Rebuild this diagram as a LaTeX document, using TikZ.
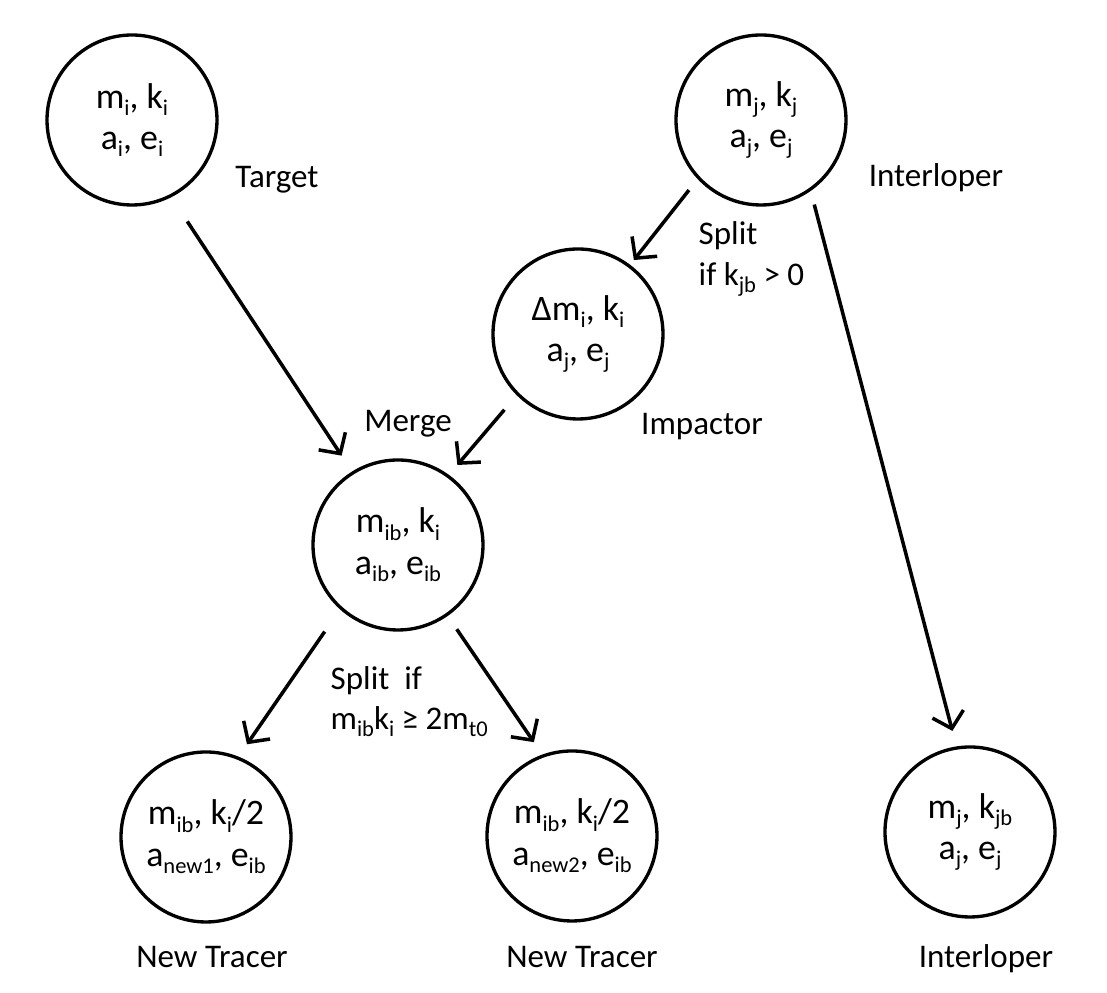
\documentclass[tikz,border=0pt]{standalone}
\usepackage{fontspec}
\setmainfont{Carlito}
\usepackage{tikz}
\usetikzlibrary{arrows.meta}
\newcommand{\sbs}[1]{\raisebox{-0.45ex}{\fontsize{6.4}{7}\selectfont #1}}

\begin{document}
\begin{tikzpicture}[
	body/.style={draw=black, line width=0.95pt, circle, minimum size=1.70cm, inner sep=0pt, align=center, font=\fontsize{10.2}{11.7}\selectfont},
	flow/.style={line width=1pt, -{Straight Barb[length=1.5mm, width=3.2mm]}},
	lab/.style={anchor=base},
	font=\fontsize{9.4}{11.4}\selectfont]
	    \useasboundingbox (0,0) rectangle (11.07,9.93);
	    \node[body] (target) at (1.32,8.73) {m\sbs{i}, k\sbs{i}\\a\sbs{i}, e\sbs{i}};
	    \node[body] (intA) at (7.61,8.73) {m\sbs{j}, k\sbs{j}\\a\sbs{j}, e\sbs{j}};
	    \node[body] (impactor) at (5.78,6.59) {Δm\sbs{i}, k\sbs{i}\\a\sbs{j}, e\sbs{j}};
	    \node[body] (merged) at (3.98,4.48) {m\sbs{ib}, k\sbs{i}\\a\sbs{ib}, e\sbs{ib}};
	    \node[body] (tracer1) at (2.06,1.56) {m\sbs{ib}, k\sbs{i}/2\\a\sbs{new1}, e\sbs{ib}};
	    \node[body] (tracer2) at (5.72,1.57) {m\sbs{ib}, k\sbs{i}/2\\a\sbs{new2}, e\sbs{ib}};
	    \node[body] (intB) at (9.70,1.61) {m\sbs{j}, k\sbs{jb}\\a\sbs{j}, e\sbs{j}};

	    \node[lab] (targetlab) at (2.77,8.05) {Target};
	    \node[lab] (intAlab) at (9.36,8.06) {Interloper};
	    \node[anchor=west, align=left, inner sep=0pt] (splitA) at (6.98,7.34) {Split\\if k\sbs{jb} > 0};
	    \node[lab] (impactorlab) at (7.02,5.58) {Impactor};
	    \node[lab] (mergelab) at (4.08,5.61) {Merge};
	    \node[anchor=west, align=left, inner sep=0pt] (splitB) at (3.30,2.91) {Split~ if\\m\sbs{ib}k\sbs{i} ≥ 2m\sbs{t0}};
	    \node[lab] (tracer1lab) at (2.12,0.25) {New Tracer};
	    \node[lab] (tracer2lab) at (5.82,0.25) {New Tracer};
	    \node[lab] (intBlab) at (9.86,0.25) {Interloper};

	    \draw[flow, shorten <=0.29cm, shorten >=0.19cm] (target.-63.9) -- (merged.122);
	    \draw[flow, shorten <=0.14cm, shorten >=0.06cm] (intA.-137) -- (impactor.53);
	    \draw[flow, shorten <=0.19cm, shorten >=0.13cm] (impactor.-135) -- (merged.54.5);
	    \draw[flow, shorten <=0.14cm, shorten >=0.16cm] (intA.-55.2) -- (intB.99.6);
	    \draw[flow, shorten <=0.27cm, shorten >=0.15cm] (merged.-132) -- (tracer1.68.6);
	    \draw[flow, shorten <=0.16cm, shorten >=0.15cm] (merged.-55.5) -- (tracer2.110);
    \end{tikzpicture}
\end{document}
